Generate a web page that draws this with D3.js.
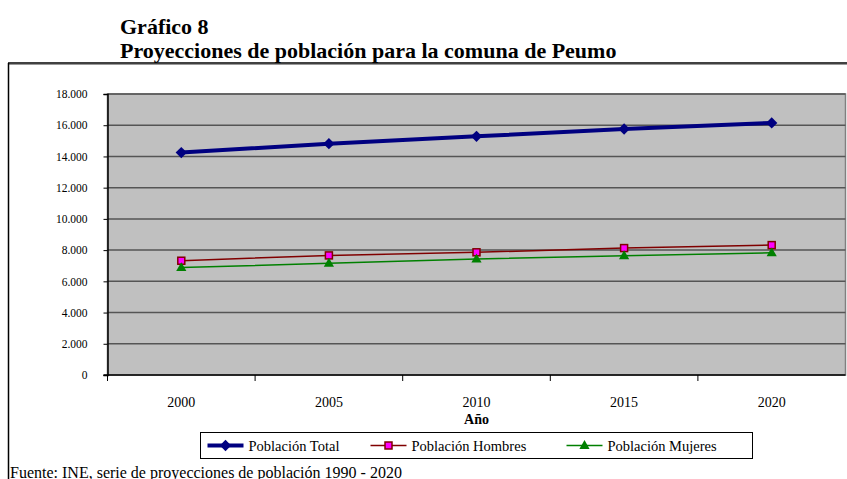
<!DOCTYPE html>
<html>
<head>
<meta charset="utf-8">
<script src="https://cdn.jsdelivr.net/npm/d3@7"></script>
<style>
  body { margin: 0; background: #fff; }
  svg text { font-family: "Liberation Serif", "Times New Roman", serif; }
</style>
</head>
<body>
<div id="chart"></div>
<script>
var years = ["2000", "2005", "2010", "2015", "2020"];
var totalValues = [14250, 14820, 15290, 15760, 16150];
var hombresValues = [7320, 7660, 7860, 8130, 8320];
var mujeresValues = [6880, 7160, 7430, 7640, 7830];
var yTicks = [0, 2000, 4000, 6000, 8000, 10000, 12000, 14000, 16000, 18000];
var seriesNames = ["Población Total", "Población Hombres", "Población Mujeres"];

var canvas_width = 847,
    canvas_height = 479;

var svg = d3.select("#chart")
    .append("svg")
    .attr("width", canvas_width)
    .attr("height", canvas_height)
    .attr("font-family", "Liberation Serif");

var margin = { top: 94, right: 1.5, bottom: 104, left: 107.5 };
var width = canvas_width - margin.left - margin.right;
var height = canvas_height - margin.top - margin.bottom;

// titles
svg.append("text")
    .attr("x", 120).attr("y", 34)
    .style("font-size", "22px").style("font-weight", "bold")
    .text("Gráfico 8");
svg.append("text")
    .attr("x", 120).attr("y", 58)
    .style("font-size", "22px").style("font-weight", "bold")
    .text("Proyecciones de población para la comuna de Peumo");

// outer frame
svg.append("line")
    .attr("x1", 8).attr("x2", canvas_width).attr("y1", 63).attr("y2", 63)
    .attr("stroke", "#000").attr("stroke-width", 1.5);
svg.append("line")
    .attr("x1", 8).attr("x2", canvas_width).attr("y1", 64.5).attr("y2", 64.5)
    .attr("stroke", "#999").attr("stroke-width", 1);
svg.append("line")
    .attr("x1", 8.5).attr("x2", 8.5).attr("y1", 63).attr("y2", canvas_height)
    .attr("stroke", "#000").attr("stroke-width", 1.5);

var xScale = d3.scaleBand().domain(years).range([0, width]);
var yScale = d3.scaleLinear().domain([0, 18000]).range([height, 0]);

var g = svg.append("g")
    .attr("transform", "translate(" + margin.left + "," + margin.top + ")");

// plot area
g.append("rect")
    .attr("x", 0).attr("y", 0)
    .attr("width", width).attr("height", height)
    .attr("fill", "#c0c0c0")
    .attr("stroke", "#808080").attr("stroke-width", 1.5);

// gridlines
g.selectAll(".grid")
    .data(yTicks.filter(d => d > 0))
    .enter()
    .append("line")
    .attr("x1", 0).attr("x2", width)
    .attr("y1", d => yScale(d)).attr("y2", d => yScale(d))
    .attr("stroke", "#555").attr("stroke-width", 1.5);

// y axis
var yAxis = g.append("g")
    .call(d3.axisLeft(yScale).tickValues(yTicks).tickSize(4).tickPadding(16)
        .tickFormat(d => d3.format(",")(d).replace(/,/g, ".")));
yAxis.attr("font-family", "Liberation Serif").attr("font-size", 11.5);
yAxis.select(".domain").attr("stroke", "#000").attr("stroke-width", 1.5);
yAxis.selectAll("text").attr("fill", "#000");

// x axis: ticks at band boundaries
var xAxis = g.append("g").attr("transform", "translate(0," + height + ")");
xAxis.append("line")
    .attr("x1", -4).attr("x2", width).attr("y1", 0).attr("y2", 0)
    .attr("stroke", "#000").attr("stroke-width", 1.5);
xAxis.selectAll(".xtick")
    .data(years)
    .enter()
    .append("line")
    .attr("x1", d => xScale(d)).attr("x2", d => xScale(d))
    .attr("y1", 0).attr("y2", 6)
    .attr("stroke", "#000");
xAxis.selectAll(".xlabel")
    .data(years)
    .enter()
    .append("text")
    .attr("x", d => xScale(d) + xScale.bandwidth() / 2)
    .attr("y", 31.5)
    .attr("text-anchor", "middle")
    .style("font-size", "14px")
    .text(d => d);
xAxis.append("text")
    .attr("x", width / 2).attr("y", 49)
    .attr("text-anchor", "middle")
    .style("font-size", "14px").style("font-weight", "bold")
    .text("Año");

var cx = d => xScale(d) + xScale.bandwidth() / 2;

function drawSeries(values, color, strokeWidth) {
    g.append("path")
        .datum(values)
        .attr("fill", "none")
        .attr("stroke", color)
        .attr("stroke-width", strokeWidth)
        .attr("d", d3.line().x((d, i) => cx(years[i])).y(d => yScale(d)));
}

drawSeries(totalValues, "#000080", 4);
drawSeries(hombresValues, "#800000", 1.5);
drawSeries(mujeresValues, "#008000", 1.5);

var diamond = d3.symbol().type(d3.symbolSquare).size(64);
g.selectAll(".dTotal")
    .data(totalValues)
    .enter()
    .append("path")
    .attr("d", diamond)
    .attr("transform", (d, i) => "translate(" + cx(years[i]) + "," + yScale(d) + ") rotate(45)")
    .attr("fill", "#000080");

g.selectAll(".dHombres")
    .data(hombresValues)
    .enter()
    .append("rect")
    .attr("x", (d, i) => cx(years[i]) - 3.5)
    .attr("y", d => yScale(d) - 3.5)
    .attr("width", 7).attr("height", 7)
    .attr("fill", "#ff00ff").attr("stroke", "#800000").attr("stroke-width", 1.5);

var tri = d3.symbol().type(d3.symbolTriangle).size(45);
g.selectAll(".dMujeres")
    .data(mujeresValues)
    .enter()
    .append("path")
    .attr("d", tri)
    .attr("transform", (d, i) => "translate(" + cx(years[i]) + "," + (yScale(d) + 0.5) + ")")
    .attr("fill", "#008000");

// legend
var legend = svg.append("g").attr("transform", "translate(200.5,432.5)");
legend.append("rect")
    .attr("x", 0).attr("y", 0).attr("width", 552).attr("height", 26)
    .attr("fill", "#fff").attr("stroke", "#000").attr("stroke-width", 1);

var legendX = [7, 170, 366];
seriesNames.forEach(function (name, i) {
    var lg = legend.append("g").attr("transform", "translate(" + legendX[i] + ",13)");
    var col = ["#000080", "#800000", "#008000"][i];
    lg.append("line").attr("x1", 0).attr("x2", 36).attr("y1", 0).attr("y2", 0)
        .attr("stroke", col).attr("stroke-width", i === 0 ? 4 : 1.5);
    if (i === 0) {
        lg.append("path").attr("d", diamond).attr("transform", "translate(18,0) rotate(45)").attr("fill", col);
    } else if (i === 1) {
        lg.append("rect").attr("x", 14.5).attr("y", -3.5).attr("width", 7).attr("height", 7)
            .attr("fill", "#ff00ff").attr("stroke", col).attr("stroke-width", 1.5);
    } else {
        lg.append("path").attr("d", tri).attr("transform", "translate(18,0.5)").attr("fill", col);
    }
    lg.append("text").attr("x", 41).attr("y", 5)
        .style("font-size", "14.5px")
        .text(name);
});

// source
svg.append("text")
    .attr("x", 10).attr("y", 478)
    .style("font-size", "16px")
    .text("Fuente: INE, serie de proyecciones de población 1990 - 2020");
</script>
</body>
</html>
